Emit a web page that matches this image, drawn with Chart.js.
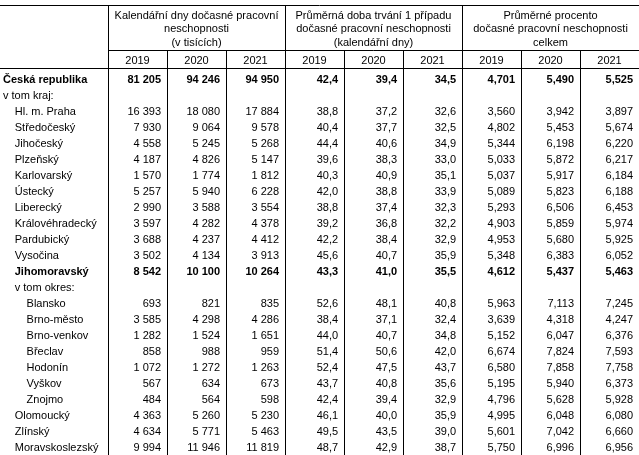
<!DOCTYPE html>
<html>
<head>
<meta charset="utf-8">
<script src="https://cdn.jsdelivr.net/npm/chart.js@4/dist/chart.umd.min.js"></script>
<style>
html,body{margin:0;padding:0;background:#fff;}
#wrap{width:639px;height:455px;position:relative;}
</style>
</head>
<body>
<div id="wrap"><canvas id="c"></canvas></div>
<script>
// ---- data ----
const rowLabels = ["Česká republika","v tom kraj:","Hl. m. Praha","Středočeský","Jihočeský","Plzeňský","Karlovarský","Ústecký","Liberecký","Královéhradecký","Pardubický","Vysočina","Jihomoravský","v tom okres:","Blansko","Brno-město","Brno-venkov","Břeclav","Hodonín","Vyškov","Znojmo","Olomoucký","Zlínský","Moravskoslezský"];
const rowLevels = [0,0,1,1,1,1,1,1,1,1,1,1,1,1,2,2,2,2,2,2,2,1,1,1];
const totalRows = [0,12];
const years = ["2019","2020","2021"];
const groupTitles = [
  ["Kalendářní dny dočasné pracovní","neschopnosti","(v tisících)"],
  ["Průměrná doba trvání 1 případu","dočasné pracovní neschopnosti","(kalendářní dny)"],
  ["Průměrné procento","dočasné pracovní neschopnosti","celkem"]
];
const groupDecimals = [0,1,3];

const days2019 = [81205,null,16393,7930,4558,4187,1570,5257,2990,3597,3688,3502,8542,null,693,3585,1282,858,1072,567,484,4363,4634,9994];
const days2020 = [94246,null,18080,9064,5245,4826,1774,5940,3588,4282,4237,4134,10100,null,821,4298,1524,988,1272,634,564,5260,5771,11946];
const days2021 = [94950,null,17884,9578,5268,5147,1812,6228,3554,4378,4412,3913,10264,null,835,4286,1651,959,1263,673,598,5230,5463,11819];
const dur2019 = [42.4,null,38.8,40.4,44.4,39.6,40.3,42.0,38.8,39.2,42.2,45.6,43.3,null,52.6,38.4,44.0,51.4,52.4,43.7,42.4,46.1,49.5,48.7];
const dur2020 = [39.4,null,37.2,37.7,40.6,38.3,40.9,38.8,37.4,36.8,38.4,40.7,41.0,null,48.1,37.1,40.7,50.6,47.5,40.8,39.4,40.0,43.5,42.9];
const dur2021 = [34.5,null,32.6,32.5,34.9,33.0,35.1,33.9,32.3,32.2,32.9,35.9,35.5,null,40.8,32.4,34.8,42.0,43.7,35.6,32.9,35.9,39.0,38.7];
const pct2019 = [4.701,null,3.560,4.802,5.344,5.033,5.037,5.089,5.293,4.903,4.953,5.348,4.612,null,5.963,3.639,5.152,6.674,6.580,5.195,4.796,4.995,5.601,5.750];
const pct2020 = [5.490,null,3.942,5.453,6.198,5.872,5.917,5.823,6.506,5.859,5.680,6.383,5.437,null,7.113,4.318,6.047,7.824,7.858,5.940,5.628,6.048,7.042,6.996];
const pct2021 = [5.525,null,3.897,5.674,6.220,6.217,6.184,6.188,6.453,5.974,5.925,6.052,5.463,null,7.245,4.247,6.376,7.593,7.758,6.373,5.928,6.080,6.660,6.956];

const columns = [days2019,days2020,days2021,dur2019,dur2020,dur2021,pct2019,pct2020,pct2021];

// ---- layout (in scale units) ----
const LABEL_W = 1.8305;          // label column width in column units
const X_MAX = LABEL_W + 9;
const Y_MIN = -4.9375, Y_MAX = 23.5;
const Y_TOP = -4.625, Y_GROUP = -1.8125, Y_YEAR_LINE = -0.6875;
const Y_TITLE = [-4.0, -3.17, -2.33];
const Y_YEARS = -1.19;
const PAD = 0.1;
const FONT = '"Liberation Sans", Arial, sans-serif';

function fmt(v, d){
  if (d === 0) return String(v).replace(/\B(?=(\d{3})+(?!\d))/g, ' ');
  return v.toFixed(d).replace('.', ',');
}

const datasets = columns.map((vals, ci) => ({
  label: 'c' + ci,
  decimals: groupDecimals[Math.floor(ci/3)],
  data: vals.map((v,i) => v == null ? null : {x: LABEL_W + ci + 1 - PAD, y: i, v: v}).filter(p => p),
  pointRadius: 0,
  showLine: false
}));

const tablePlugin = {
  id: 'table',
  afterDraw(chart){
    const ctx = chart.ctx;
    const xs = chart.scales.x, ys = chart.scales.y;
    const X = v => xs.getPixelForValue(v);
    const Y = v => ys.getPixelForValue(v);
    const crisp = p => Math.round(p) + 0.5;
    ctx.save();
    ctx.fillStyle = '#000';
    ctx.textBaseline = 'alphabetic';

    // cell values
    chart.data.datasets.forEach((ds, di) => {
      const meta = chart.getDatasetMeta(di);
      meta.data.forEach((el, i) => {
        const p = ds.data[i];
        const bold = totalRows.includes(p.y);
        ctx.font = (bold ? 'bold ' : '') + '11px ' + FONT;
        ctx.textAlign = 'right';
        ctx.fillText(fmt(p.v, ds.decimals), el.x, el.y + 4);
      });
    });

    // row labels
    ctx.textAlign = 'left';
    rowLabels.forEach((lab, i) => {
      const bold = totalRows.includes(i);
      ctx.font = (bold ? 'bold ' : '') + '11px ' + FONT;
      ctx.fillText(lab, X(0.05 + rowLevels[i] * 0.2), Y(i) + 4);
    });

    // header
    ctx.font = '11px ' + FONT;
    ctx.textAlign = 'center';
    groupTitles.forEach((lines, g) => {
      const cx = X(LABEL_W + g*3 + 1.5);
      lines.forEach((t, k) => ctx.fillText(t, cx, Y(Y_TITLE[k]) + 4));
      years.forEach((yr, k) => ctx.fillText(yr, X(LABEL_W + g*3 + k + 0.5), Y(Y_YEARS) + 4));
    });

    // grid lines
    ctx.strokeStyle = '#000';
    ctx.lineWidth = 1;
    ctx.beginPath();
    const yTop = crisp(Y(Y_TOP)), yBottom = Y(Y_MAX);
    ctx.moveTo(X(0), yTop); ctx.lineTo(X(X_MAX), yTop);
    const yg = crisp(Y(Y_GROUP));
    ctx.moveTo(crisp(X(LABEL_W)), yg); ctx.lineTo(X(X_MAX), yg);
    const yy = crisp(Y(Y_YEAR_LINE));
    ctx.moveTo(X(0), yy); ctx.lineTo(X(X_MAX), yy);
    for (let k = 0; k < 9; k++){
      const x = crisp(X(LABEL_W + k));
      ctx.moveTo(x, k % 3 === 0 ? yTop : yg);
      ctx.lineTo(x, yBottom);
    }
    ctx.stroke();
    ctx.restore();
  }
};

new Chart(document.getElementById('c'), {
  type: 'scatter',
  data: { datasets },
  options: {
    responsive: true,
    maintainAspectRatio: false,
    animation: false,
    layout: { padding: 0 },
    plugins: { legend: { display: false }, tooltip: { enabled: false } },
    scales: {
      x: { type: 'linear', display: false, min: 0, max: X_MAX },
      y: { type: 'linear', display: false, min: Y_MIN, max: Y_MAX, reverse: true }
    }
  },
  plugins: [tablePlugin]
});
</script>
</body>
</html>
